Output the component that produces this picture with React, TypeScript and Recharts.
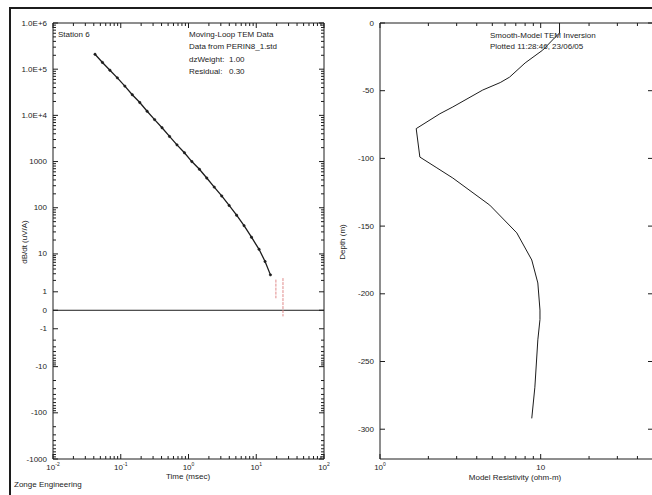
import { LineChart, Line, XAxis, YAxis, ReferenceLine } from 'recharts';

const FONT = '"Liberation Sans", Arial, sans-serif';
const INK = '#1c1c1c';

// Moving-loop TEM sounding: gate times (msec) and dB/dt (uV/A)
const gateTimes = [
  0.0417, 0.0537, 0.0692, 0.0891, 0.115, 0.148, 0.191, 0.245, 0.316, 0.407, 0.525, 0.676, 0.871,
  1.12, 1.45, 1.86, 2.4, 3.09, 3.98, 5.13, 6.61, 8.51, 11.0, 13.5, 16.2,
];
const dbdt = [
  2.1e5, 1.4e5, 9.5e4, 6.5e4, 4.3e4, 2.8e4, 1.9e4, 1.23e4, 8.1e3, 5.4e3, 3.5e3, 2.3e3, 1.55e3,
  1.0e3, 680, 440, 280, 180, 112, 69, 41, 23, 12.6, 6.3, 2.8,
];

// last gates are noise-dominated, shown as error bars only
const lateTimes = [19.5, 24.8];
const lateHigh = [2.1, 2.3];
const lateLow = [0.65, -0.33];

// smooth-model inversion result
const modelDepth = [
  0, -7.4, -11, -20, -29.5, -40, -44, -49.5, -62, -67, -78, -99, -107, -114.5, -134.5, -155, -175,
  -192, -212, -219, -234, -269, -292,
];
const modelRho = [
  13.1, 13.1, 12.2, 10.3, 8.0, 6.4, 5.6, 4.36, 2.84, 2.36, 1.68, 1.77, 2.26, 2.84, 4.82, 7.1, 8.8,
  9.6, 9.9, 9.9, 9.6, 9.2, 8.8,
];

const dbdtLabelValues = [1e6, 1e5, 1e4, 1000, 100, 10, 1, 0, -1, -10, -100, -1000];
const dbdtLabels = ['1.0E+6', '1.0E+5', '1.0E+4', '1000', '100', '10', '1', '0', '-1', '-10', '-100', '-1000'];
const depthTicks = [0, -50, -100, -150, -200, -250, -300];

// signed log axis for dB/dt: linear through zero, decades above |1|
const warp = (v: number) => {
  const a = Math.abs(v);
  const s = Math.sign(v);
  if (a <= 1) return 0.4 * v;
  if (a <= 10) return s * (0.4 + 0.82 * Math.log10(a));
  return s * (Math.log10(a) + 0.22);
};

const logTicks = (from: number, to: number, last: number) => {
  const out: number[] = [];
  for (let d = from; d <= to; d++) for (let k = 1; k <= 9; k++) out.push(k * Math.pow(10, d));
  out.push(last);
  return out;
};
const isDecade = (v: number) => Math.abs(Math.log10(v) - Math.round(Math.log10(v))) < 1e-6;

const timeTicks = logTicks(-2, 1, 100);
const rhoTicks = [1, 2, 3, 4, 5, 6, 7, 8, 9, 10, 20, 30, 40, 50];

const dbdtTicks: { u: number; label: string | null }[] = [];
dbdtLabelValues.forEach((v, i) => dbdtTicks.push({ u: warp(v), label: dbdtLabels[i] }));
for (let d = 0; d <= 5; d++)
  for (let k = 2; k <= 9; k++) dbdtTicks.push({ u: warp(k * Math.pow(10, d)), label: null });
for (let d = 0; d <= 2; d++)
  for (let k = 2; k <= 9; k++) dbdtTicks.push({ u: warp(-k * Math.pow(10, d)), label: null });
const dbdtLabelOf = (u: number) => {
  const hit = dbdtTicks.find((t) => Math.abs(t.u - u) < 1e-6);
  return hit ? hit.label : null;
};

type Side = 'left' | 'right' | 'top' | 'bottom';

// inward tick marks, labels outside the frame
const makeTick =
  (side: Side, major: (v: number) => boolean, label?: (v: number) => React.ReactNode) =>
  (props: any) => {
    const { x, y, payload } = props;
    const v = payload.value;
    const len = major(v) ? 5 : 3;
    const lab = label ? label(v) : null;
    let line;
    if (side === 'left') line = <line x1={x} y1={y} x2={x + len} y2={y} />;
    else if (side === 'right') line = <line x1={x} y1={y} x2={x - len} y2={y} />;
    else if (side === 'bottom') line = <line x1={x} y1={y} x2={x} y2={y - len} />;
    else line = <line x1={x} y1={y} x2={x} y2={y + len} />;
    return (
      <g stroke={INK} strokeWidth={1}>
        {line}
        {lab !== null && lab !== undefined && side === 'left' && (
          <text x={x - 6} y={y} textAnchor="end" dominantBaseline="central" fontSize={8} fill={INK} stroke="none" fontFamily={FONT}>
            {lab}
          </text>
        )}
        {lab !== null && lab !== undefined && side === 'bottom' && (
          <text x={x} y={y + 11} textAnchor="middle" fontSize={8} fill={INK} stroke="none" fontFamily={FONT}>
            {lab}
          </text>
        )}
      </g>
    );
  };

const powLabel = (v: number) => {
  if (!isDecade(v)) return null;
  const e = Math.round(Math.log10(v));
  return (
    <>
      <tspan>10</tspan>
      <tspan dy={-4} fontSize={5}>
        {e}
      </tspan>
    </>
  );
};
const rhoLabel = (v: number) => (v === 1 ? powLabel(v) : v === 10 ? '10' : null);

const noteStyle = (left: number, top: number): React.CSSProperties => ({
  position: 'absolute',
  left,
  top,
  fontSize: 8,
  lineHeight: '8px',
  whiteSpace: 'nowrap',
  color: INK,
});

const decayData = gateTimes.map((t, i) => ({ t, u: warp(dbdt[i]) }));
const errorBars = lateTimes.map((t, i) => [
  { t, u: warp(lateHigh[i]) },
  { t, u: warp(lateLow[i]) },
]);
const modelData = modelDepth.map((depth, i) => ({ depth, rho: modelRho[i] }));

const axisLine = { stroke: INK, strokeWidth: 1 };

export default function App() {
  return (
    <div style={{ position: 'relative', width: 652, height: 495, overflow: 'hidden', background: '#fff', fontFamily: FONT }}>
      <style>{'body{margin:0}'}</style>
      <div style={{ position: 'absolute', left: 9, top: 7, width: 700, height: 600, borderTop: `2px solid ${INK}`, borderLeft: `2px solid ${INK}` }} />

      {/* dB/dt decay curve */}
      <div style={{ position: 'absolute', left: 0, top: 0 }}>
        <LineChart width={330} height={495} margin={{ top: 22, right: 5, bottom: 0, left: 0 }}>
          <XAxis xAxisId="b" type="number" dataKey="t" scale="log" domain={[0.01, 100]} allowDataOverflow
            orientation="bottom" height={36} ticks={timeTicks} interval={0} tickSize={0} tickMargin={0}
            axisLine={axisLine} tickLine={false} tick={makeTick('bottom', isDecade, powLabel)} />
          <XAxis xAxisId="t" type="number" dataKey="t" scale="log" domain={[0.01, 100]} allowDataOverflow
            orientation="top" height={1} ticks={timeTicks} interval={0} tickSize={0} tickMargin={0}
            axisLine={axisLine} tickLine={false} tick={makeTick('top', isDecade)} />
          <YAxis yAxisId="l" type="number" domain={[warp(-1000), warp(1e6)]} allowDataOverflow width={53}
            ticks={dbdtTicks.map((t) => t.u)} interval={0} tickSize={0} tickMargin={0}
            axisLine={axisLine} tickLine={false}
            tick={makeTick('left', (u) => dbdtLabelOf(u) !== null, dbdtLabelOf)} />
          <YAxis yAxisId="r" orientation="right" type="number" domain={[warp(-1000), warp(1e6)]} allowDataOverflow width={1}
            ticks={dbdtTicks.map((t) => t.u)} interval={0} tickSize={0} tickMargin={0}
            axisLine={axisLine} tickLine={false}
            tick={makeTick('right', (u) => dbdtLabelOf(u) !== null)} />
          <ReferenceLine xAxisId="b" yAxisId="l" y={0} stroke={INK} strokeWidth={1} />
          <Line xAxisId="b" yAxisId="l" data={decayData} dataKey="u" stroke={INK} strokeWidth={1.3}
            dot={{ r: 1.2, fill: INK, stroke: INK, strokeWidth: 0.5 }} isAnimationActive={false} />
          {errorBars.map((d, i) => (
            <Line key={i} xAxisId="b" yAxisId="l" data={d} dataKey="u" stroke="#e08a8a" strokeWidth={1}
              strokeDasharray="3 1" dot={false} isAnimationActive={false} />
          ))}
        </LineChart>
      </div>

      {/* smooth-model resistivity section; its right frame sits just past the page edge */}
      <div style={{ position: 'absolute', left: 330, top: 0 }}>
        <LineChart layout="vertical" width={330} height={495} margin={{ top: 22, right: 6, bottom: 0, left: 0 }}>
          <XAxis xAxisId="b" type="number" scale="log" domain={[1, 50]} allowDataOverflow orientation="bottom"
            height={36} ticks={rhoTicks} interval={0} tickSize={0} tickMargin={0}
            axisLine={axisLine} tickLine={false} tick={makeTick('bottom', (v) => v === 1 || v === 10, rhoLabel)} />
          <XAxis xAxisId="t" type="number" scale="log" domain={[1, 50]} allowDataOverflow orientation="top"
            height={1} ticks={rhoTicks} interval={0} tickSize={0} tickMargin={0}
            axisLine={axisLine} tickLine={false} tick={makeTick('top', (v) => v === 1 || v === 10)} />
          <YAxis yAxisId="l" type="number" dataKey="depth" domain={[-322, 0]} reversed allowDataOverflow width={50}
            ticks={depthTicks} interval={0} tickSize={0} tickMargin={0}
            axisLine={axisLine} tickLine={false} tick={makeTick('left', () => true, (v) => String(v))} />
          <YAxis yAxisId="r" orientation="right" type="number" dataKey="depth" domain={[-322, 0]} reversed allowDataOverflow
            width={1} ticks={depthTicks} interval={0} tickSize={0} tickMargin={0}
            axisLine={axisLine} tickLine={false} tick={makeTick('right', () => true)} />
          <Line xAxisId="b" yAxisId="l" data={modelData} dataKey="rho" stroke={INK} strokeWidth={1}
            dot={false} isAnimationActive={false} />
        </LineChart>
      </div>

      <div style={noteStyle(58, 31)}>Station 6</div>
      <div style={noteStyle(189, 31)}>Moving-Loop TEM Data</div>
      <div style={noteStyle(189, 43)}>Data from PERIN8_1.std</div>
      <div style={noteStyle(189, 56)}>dzWeight:</div>
      <div style={noteStyle(229, 56)}>1.00</div>
      <div style={noteStyle(189, 68)}>Residual:</div>
      <div style={noteStyle(229, 68)}>0.30</div>

      <div style={noteStyle(490, 32)}>Smooth-Model TEM Inversion</div>
      <div style={noteStyle(490, 43)}>Plotted 11:28:46, 23/06/05</div>

      <div style={{ ...noteStyle(138, 473), width: 100, textAlign: 'center' }}>Time (msec)</div>
      <div style={{ ...noteStyle(455, 474), width: 120, textAlign: 'center' }}>Model Resistivity (ohm-m)</div>
      <div style={noteStyle(14, 481)}>Zonge Engineering</div>

      <div style={{ ...noteStyle(-25, 238), width: 100, textAlign: 'center', transform: 'rotate(-90deg)' }}>dB/dt (uV/A)</div>
      <div style={{ ...noteStyle(293, 238), width: 100, textAlign: 'center', transform: 'rotate(-90deg)' }}>Depth (m)</div>
    </div>
  );
}
